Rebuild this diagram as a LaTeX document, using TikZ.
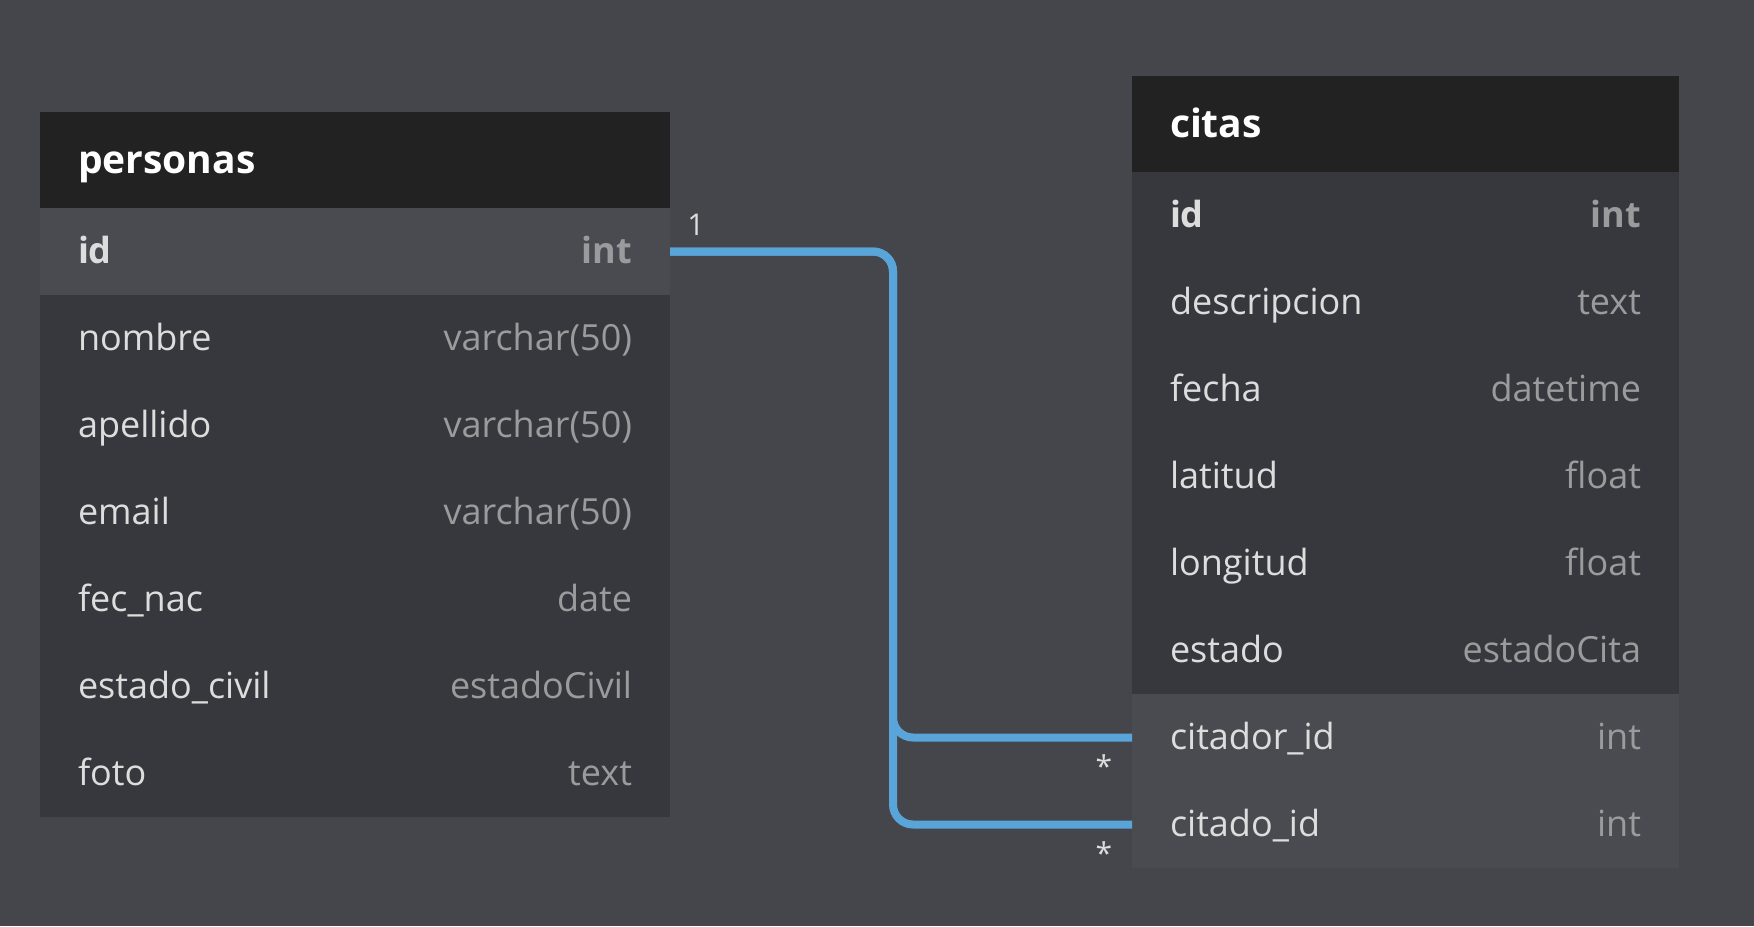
\documentclass[tikz,border=0pt]{standalone}
\usepackage{fontspec}
\setmainfont{Open Sans}
\usepackage{tikz}
\usetikzlibrary{positioning}
\definecolor{canvas}{HTML}{45464B}
\definecolor{headbg}{HTML}{222223}
\definecolor{rowbg}{HTML}{37383D}
\definecolor{hlbg}{HTML}{4A4B50}
\definecolor{namefg}{HTML}{DDDDDE}
\definecolor{typefg}{HTML}{9B9B9D}
\definecolor{relblue}{HTML}{59A5DA}
\newcommand{\fldw}{277pt}
\newcommand{\fld}[2]{\hbox to \fldw{#1\hfill{\color{typefg}#2}}}

\begin{document}
\begin{tikzpicture}[x=0.5pt, y=-0.5pt, node distance=0pt, every node/.style={font=\fontsize{18}{21}\selectfont, outer sep=0pt}]
    % table styles: header bar, plain rows, highlighted (referenced) rows
    \tikzset{
        tblhead/.style={fill=headbg, text=white, font=\fontsize{19.5}{22}\selectfont\bfseries, minimum height=48pt, inner xsep=19pt, inner ysep=0pt, text height=16.5pt, text depth=3.5pt},
        tblrow/.style={fill=rowbg, text=namefg, minimum height=43.5pt, inner xsep=19pt, inner ysep=0pt, text height=15.6pt, text depth=3.2pt},
        hlrow/.style={tblrow, fill=hlbg},
        keyrow/.style={font=\fontsize{18}{21}\selectfont\bfseries},
        card/.style={text=namefg, inner sep=0pt, font=\fontsize{15}{18}\selectfont},
        rel/.style={draw=relblue, line width=4pt, rounded corners=10pt}
    }
    \fill[canvas] (0,0) rectangle (1754,926);
    \useasboundingbox (0,0) rectangle (1754,926);
    % personas
    \node[tblhead, anchor=north west] (ph) at (40,112) {\hbox to \fldw{personas\hfill}};
    \node[hlrow, keyrow, below=of ph] (pid) {\fld{id}{int}};
    \node[tblrow, below=of pid] (pnombre) {\fld{nombre}{varchar(50)}};
    \node[tblrow, below=of pnombre] (papellido) {\fld{apellido}{varchar(50)}};
    \node[tblrow, below=of papellido] (pemail) {\fld{email}{varchar(50)}};
    \node[tblrow, below=of pemail] (pfecnac) {\fld{fec\_nac}{date}};
    \node[tblrow, below=of pfecnac] (pcivil) {\fld{estado\_civil}{estadoCivil}};
    \node[tblrow, below=of pcivil] (pfoto) {\fld{foto}{text}};
    % citas
    \renewcommand{\fldw}{235.5pt}
    \node[tblhead, anchor=north west] (ch) at (1132,76) {\hbox to \fldw{citas\hfill}};
    \node[tblrow, keyrow, below=of ch] (cid) {\fld{id}{int}};
    \node[tblrow, below=of cid] (cdesc) {\fld{descripcion}{text}};
    \node[tblrow, below=of cdesc] (cfecha) {\fld{fecha}{datetime}};
    \node[tblrow, below=of cfecha] (clat) {\fld{latitud}{float}};
    \node[tblrow, below=of clat] (clong) {\fld{longitud}{float}};
    \node[tblrow, below=of clong] (cestado) {\fld{estado}{estadoCita}};
    \node[hlrow, below=of cestado] (ccitador) {\fld{citador\_id}{int}};
    \node[hlrow, below=of ccitador] (ccitado) {\fld{citado\_id}{int}};
    % relations personas.id 1 -- * citas.citador_id / citas.citado_id
    \coordinate (elbow) at (893,251);
    \draw[rel] (pid.east) -| (elbow |- ccitador.west) -- (ccitador.west);
    \draw[rel] (pid.east) -| (elbow |- ccitado.west) -- (ccitado.west);
    \node[card] (one) at ([xshift=13pt, yshift=13.5pt]pid.east) {1};
    \node[card] (many1) at ([xshift=-14pt, yshift=-14.5pt]ccitador.west) {*};
    \node[card] (many2) at ([xshift=-14pt, yshift=-14.5pt]ccitado.west) {*};
\end{tikzpicture}
\end{document}
